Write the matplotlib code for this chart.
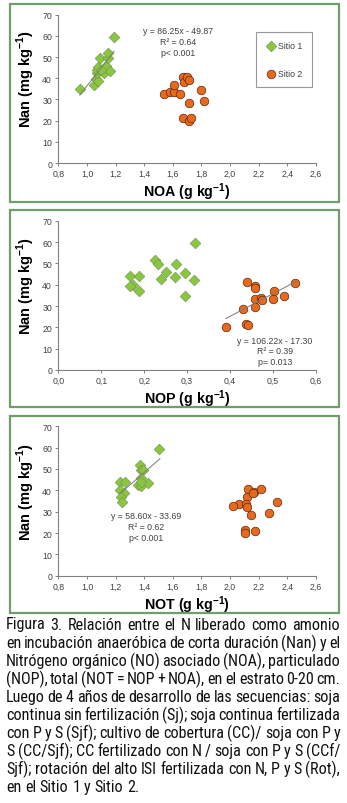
import matplotlib
matplotlib.use("Agg")
import matplotlib.pyplot as plt
from matplotlib import font_manager
from matplotlib.patches import Rectangle
import numpy as np

# Sitio 1 (diamonds) and Sitio 2 (circles): Nan vs NOA / NOP / NOT
noa_s1 = [0.95, 1.05, 1.06, 1.08, 1.07, 1.07, 1.08, 1.09, 1.12, 1.13, 1.16, 1.10, 1.15, 1.15, 1.19]
nan_noa_s1 = [34.7, 37.0, 39.6, 38.7, 42.3, 43.9, 45.3, 49.4, 42.5, 45.6, 43.4, 43.9, 49.7, 51.7, 59.4]
noa_s2 = [1.54, 1.58, 1.61, 1.61, 1.65, 1.67, 1.68, 1.70, 1.71, 1.71, 1.67, 1.71, 1.73, 1.80, 1.82]
nan_noa_s2 = [32.4, 33.5, 33.5, 37.0, 32.5, 40.6, 38.4, 40.4, 39.2, 28.3, 21.4, 19.7, 21.2, 34.6, 29.2]

nop_s1 = [0.318, 0.226, 0.231, 0.273, 0.251, 0.295, 0.166, 0.189, 0.238, 0.272, 0.316, 0.174, 0.166, 0.187, 0.296]
nan_nop_s1 = [59.5, 51.7, 49.5, 49.8, 45.8, 45.5, 44.1, 43.9, 42.5, 43.6, 42.3, 39.8, 39.2, 37.2, 34.8]
nop_s2 = [0.439, 0.457, 0.457, 0.503, 0.551, 0.457, 0.472, 0.475, 0.499, 0.526, 0.430, 0.457, 0.437, 0.441, 0.391]
nan_nop_s2 = [41.1, 39.2, 38.4, 37.2, 40.6, 33.1, 33.6, 32.7, 33.4, 34.7, 28.7, 29.4, 21.6, 21.1, 20.0]

not_s1 = [1.234, 1.269, 1.234, 1.258, 1.239, 1.246, 1.371, 1.376, 1.39, 1.376, 1.357, 1.381, 1.430, 1.38, 1.506]
nan_not_s1 = [44.1, 43.8, 40.0, 38.6, 37.0, 34.7, 51.7, 49.4, 49.5, 45.6, 42.5, 42.2, 43.4, 43.9, 59.2]
not_s2 = [2.124, 2.166, 2.213, 2.117, 2.064, 2.020, 2.110, 2.148, 2.275, 2.326, 2.171, 2.106, 2.101, 2.12, 2.16]
nan_not_s2 = [40.6, 39.1, 40.6, 37.0, 33.5, 32.5, 33.6, 28.3, 29.4, 34.4, 21.0, 21.6, 20.0, 32.3, 38.6]

# fitted lines: slope, intercept, x-range
fit_noa = (86.25, -49.87, 0.95, 1.19)
fit_nop = (106.22, -17.30, 0.39, 0.553)
fit_not = (58.60, -33.69, 1.234, 1.51)

caption_lines = [
    "Figura 3. Relación entre el N liberado como amonio",
    "en incubación anaeróbica de corta duración (Nan) y el",
    "Nitrógeno orgánico (NO) asociado (NOA), particulado",
    "(NOP), total (NOT = NOP + NOA), en el estrato 0-20 cm.",
    "Luego de 4 años de desarrollo de las secuencias: soja",
    "continua sin fertilización (Sj); soja continua fertilizada",
    "con P y S (Sjf); cultivo de cobertura (CC)/ soja con P y",
    "S (CC/Sjf); CC fertilizado con N / soja con P y S (CCf/",
    "Sjf); rotación del alto ISI fertilizada con N, P y S (Rot),",
    "en el Sitio 1 y Sitio 2.",
]

GREEN = "#8cc63f"
ORANGE = "#e8691c"
BOX = "#6f9e6a"
AXC = "#808080"

plt.rcParams["font.family"] = ["Liberation Sans", "DejaVu Sans"]
plt.rcParams["mathtext.fontset"] = "custom"
plt.rcParams["mathtext.rm"] = "Liberation Sans"
plt.rcParams["mathtext.bf"] = "Liberation Sans:bold"

names = {f.name for f in font_manager.fontManager.ttflist}
cap_font = "Liberation Sans"
for cand in ["Liberation Sans Narrow", "Roboto Condensed", "Open Sans Condensed"]:
    if cand in names:
        cap_font = cand
        break

W, H = 347, 804
fig = plt.figure(figsize=(W / 100, H / 100), dpi=100)


def fy(y):
    return 1 - y / H


# green frames around each panel
for top, bot in [(5, 203), (211, 408), (417, 614)]:
    fig.patches.append(Rectangle((10 / W, fy(bot)), 329 / W, (bot - top) / H,
                                 transform=fig.transFigure, fill=False,
                                 edgecolor=BOX, linewidth=1.6))


def panel(top, bot, xs1, ys1, xs2, ys2, fit, xlim, xticks, xlabel, eq, eqpos):
    ax = fig.add_axes([58.3 / W, fy(bot), (316 - 58.3) / W, (bot - top) / H])
    ax.scatter(xs1, ys1, marker="D", s=30, color=GREEN, edgecolor="#6a8f50",
               linewidth=0.4, zorder=3, label="Sitio 1")
    ax.scatter(xs2, ys2, marker="o", s=38, color=ORANGE, edgecolor="#5a2a10",
               linewidth=0.5, zorder=3, label="Sitio 2")
    m, b, x0, x1 = fit
    xx = np.array([x0, x1])
    ax.plot(xx, m * xx + b, color="#7a7a7a", linewidth=0.7, zorder=4)
    ax.set_xlim(*xlim)
    ax.set_ylim(0, 70)
    ax.set_xticks(xticks)
    ax.set_xticklabels(["{:.1f}".format(v).replace(".", ",") for v in xticks])
    ax.set_yticks(range(0, 71, 10))
    for s in ["top", "right"]:
        ax.spines[s].set_visible(False)
    for s in ["left", "bottom"]:
        ax.spines[s].set_color(AXC)
        ax.spines[s].set_linewidth(0.8)
    ax.tick_params(colors=AXC, labelcolor="#404040", labelsize=6.3,
                   length=2.5, width=0.7, direction="out", pad=2)
    ax.set_ylabel("Nan (mg kg$^{\\mathbf{-1}}$)", fontsize=10.5, fontweight="bold")
    ax.yaxis.set_label_coords(-0.083, 0.57)
    ax.set_xlabel(xlabel, fontsize=10.3, fontweight="bold", labelpad=1.5)
    ax.text(eqpos[0], eqpos[1], eq, fontsize=6.3, color="#404040",
            ha="center", va="center", multialignment="center", linespacing=1.25)
    return ax


ax1 = panel(15.7, 164, noa_s1, nan_noa_s1, noa_s2, nan_noa_s2, fit_noa,
            (0.8, 2.6), np.arange(0.8, 2.61, 0.2),
            "NOA (g kg$^{\\mathbf{-1}}$)",
            "y = 86.25x - 49.87\nR² = 0.64\np< 0.001", (1.64, 57.3))
leg = ax1.legend(loc="upper left", bbox_to_anchor=(0.766, 0.88), fontsize=6.3,
                 frameon=True, fancybox=False, labelspacing=2.2,
                 handletextpad=0.0, borderpad=1.0, handlelength=1.6,
                 borderaxespad=0)
leg.get_frame().set_edgecolor(AXC)
leg.get_frame().set_linewidth(0.8)
for t in leg.get_texts():
    t.set_color("#404040")

panel(221.7, 371, nop_s1, nan_nop_s1, nop_s2, nan_nop_s2, fit_nop,
      (0.0, 0.6), np.arange(0.0, 0.61, 0.1),
      "NOP (g kg$^{\\mathbf{-1}}$)",
      "y = 106.22x - 17.30\nR² = 0.39\np= 0.013", (0.5045, 9.0))

panel(427.3, 576.7, not_s1, nan_not_s1, not_s2, nan_not_s2, fit_not,
      (0.8, 2.6), np.arange(0.8, 2.61, 0.2),
      "NOT (g kg$^{\\mathbf{-1}}$)",
      "y = 58.60x - 33.69\nR² = 0.62\np< 0.001", (1.412, 23.0))

# justified caption, placed word by word
renderer = fig.canvas.get_renderer()
left, right = 6, 340
y0, step = 625, 18.1
CAP_SIZE = 11.6
for i, line in enumerate(caption_lines):
    y = fy(y0 + i * step)
    words = line.split(" ")
    texts = [fig.text(0, y, w, fontsize=CAP_SIZE, family=cap_font, va="center",
                      color="#111111") for w in words]
    widths = [t.get_window_extent(renderer).width for t in texts]
    natural = fig.text(0, 0, "a a", fontsize=CAP_SIZE, family=cap_font)
    sp = natural.get_window_extent(renderer).width
    natural.remove()
    a = fig.text(0, 0, "aa", fontsize=CAP_SIZE, family=cap_font)
    sp -= a.get_window_extent(renderer).width
    a.remove()
    if i < len(caption_lines) - 1 and len(words) > 1:
        sp = (right - left - sum(widths)) / (len(words) - 1)
    x = left
    for t, w in zip(texts, widths):
        t.set_x(x / W)
        x += w + sp

fig.savefig("out.png", dpi=100, facecolor="white")
